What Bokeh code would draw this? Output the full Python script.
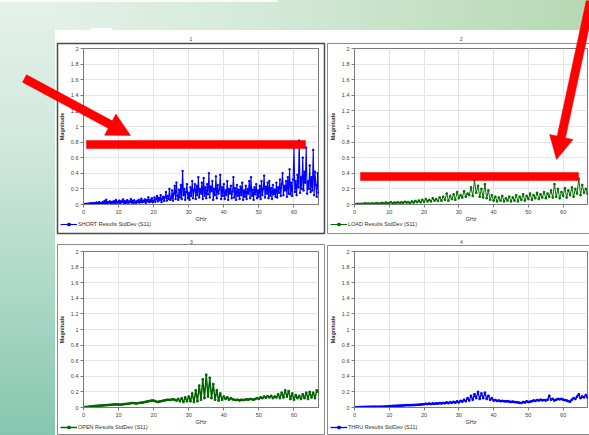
from bokeh.plotting import figure
from bokeh.layouts import row, column
from bokeh.models import Range1d, FixedTicker, Legend, LegendItem, ColumnDataSource
from bokeh.core.properties import value
from bokeh.embed import file_html
from bokeh.resources import INLINE

# ---------------- data ----------------
SHORT_STEP_GHZ = 0.25
OTHER_STEP_GHZ = 0.5

short_sd = [
    0.000, 0.004, 0.008, 0.003, 0.010, 0.006, 0.012, 0.004, 0.015, 0.008, 0.018, 0.006, 0.014, 0.020, 0.009, 0.025, 0.012, 0.018, 0.030, 0.010,
    0.020, 0.015, 0.032, 0.012, 0.045, 0.020, 0.060, 0.015, 0.030, 0.025, 0.040, 0.012, 0.028, 0.035, 0.018, 0.042, 0.022, 0.058, 0.020, 0.035,
    0.025, 0.050, 0.018, 0.040, 0.030, 0.065, 0.022, 0.045, 0.015, 0.035, 0.055, 0.020, 0.040, 0.028, 0.070, 0.025, 0.048, 0.018, 0.052, 0.030,
    0.020, 0.045, 0.030, 0.060, 0.025, 0.040, 0.075, 0.028, 0.050, 0.035, 0.065, 0.022, 0.055, 0.040, 0.092, 0.030, 0.060, 0.038, 0.080, 0.028,
    0.045, 0.090, 0.035, 0.070, 0.110, 0.040, 0.085, 0.055, 0.120, 0.030, 0.075, 0.100, 0.045, 0.090, 0.160, 0.050, 0.110, 0.070, 0.200, 0.060,
    0.080, 0.180, 0.050, 0.140, 0.240, 0.070, 0.280, 0.110, 0.060, 0.190, 0.090, 0.250, 0.070, 0.430, 0.120, 0.200, 0.060, 0.160, 0.260, 0.080,
    0.150, 0.060, 0.220, 0.110, 0.300, 0.080, 0.180, 0.260, 0.070, 0.240, 0.120, 0.350, 0.090, 0.200, 0.140, 0.280, 0.070, 0.340, 0.110, 0.220,
    0.080, 0.260, 0.130, 0.400, 0.090, 0.230, 0.170, 0.300, 0.060, 0.200, 0.120, 0.360, 0.080, 0.250, 0.140, 0.190, 0.380, 0.070, 0.220, 0.110,
    0.260, 0.070, 0.180, 0.120, 0.300, 0.060, 0.200, 0.140, 0.240, 0.080, 0.170, 0.350, 0.090, 0.210, 0.060, 0.250, 0.110, 0.190, 0.070, 0.230,
    0.120, 0.280, 0.060, 0.180, 0.100, 0.240, 0.070, 0.200, 0.140, 0.300, 0.080, 0.350, 0.110, 0.190, 0.060, 0.220, 0.130, 0.260, 0.080, 0.180,
    0.100, 0.240, 0.070, 0.300, 0.120, 0.200, 0.370, 0.090, 0.230, 0.140, 0.280, 0.080, 0.300, 0.110, 0.210, 0.070, 0.250, 0.130, 0.190, 0.100,
    0.280, 0.090, 0.220, 0.150, 0.320, 0.110, 0.260, 0.400, 0.120, 0.240, 0.180, 0.300, 0.100, 0.350, 0.140, 0.450, 0.130, 0.280, 0.110, 0.320,
    0.720, 0.160, 0.300, 0.120, 0.380, 0.220, 0.820, 0.150, 0.350, 0.200, 0.600, 0.180, 0.420, 0.280, 0.730, 0.140, 0.300, 0.200, 0.500, 0.160,
    0.350, 0.180, 0.700, 0.120, 0.420, 0.250, 0.100, 0.400, 0.150,
]

load_sd = [
    0.00, 0.005, 0.01, 0.005, 0.01, 0.008, 0.015, 0.01, 0.012, 0.008,
    0.015, 0.01, 0.012, 0.018, 0.01, 0.015, 0.02, 0.012, 0.025, 0.015,
    0.02, 0.03, 0.015, 0.025, 0.02, 0.03, 0.018, 0.028, 0.02, 0.035,
    0.025, 0.03, 0.02, 0.04, 0.025, 0.045, 0.03, 0.05, 0.03, 0.06,
    0.035, 0.07, 0.04, 0.06, 0.04, 0.08, 0.05, 0.07, 0.045, 0.09,
    0.05, 0.10, 0.06, 0.14, 0.05, 0.11, 0.07, 0.13, 0.06, 0.16,
    0.08, 0.12, 0.09, 0.17, 0.10, 0.14, 0.12, 0.22, 0.11, 0.31,
    0.15, 0.24, 0.10, 0.20, 0.09, 0.26, 0.08, 0.18, 0.06, 0.12,
    0.05, 0.10, 0.04, 0.09, 0.05, 0.11, 0.04, 0.08, 0.05, 0.10,
    0.04, 0.09, 0.05, 0.12, 0.04, 0.10, 0.06, 0.13, 0.05, 0.11,
    0.07, 0.14, 0.06, 0.12, 0.08, 0.15, 0.07, 0.13, 0.09, 0.16,
    0.08, 0.14, 0.10, 0.18, 0.09, 0.26, 0.10, 0.20, 0.08, 0.16,
    0.11, 0.21, 0.09, 0.18, 0.12, 0.22, 0.10, 0.20, 0.14, 0.33,
    0.12, 0.25, 0.15, 0.20, 0.14,
]

open_sd = [
    0.00, 0.005, 0.008, 0.01, 0.012, 0.015, 0.018, 0.02, 0.022, 0.024,
    0.025, 0.027, 0.028, 0.03, 0.032, 0.034, 0.036, 0.038, 0.04, 0.04,
    0.038, 0.036, 0.04, 0.042, 0.045, 0.048, 0.05, 0.055, 0.058, 0.055,
    0.052, 0.055, 0.06, 0.062, 0.065, 0.07, 0.075, 0.08, 0.085, 0.09,
    0.088, 0.08, 0.072, 0.075, 0.08, 0.085, 0.09, 0.095, 0.10, 0.098,
    0.10, 0.105, 0.10, 0.09, 0.11, 0.08, 0.12, 0.07, 0.13, 0.08,
    0.14, 0.08, 0.18, 0.07, 0.22, 0.08, 0.28, 0.10, 0.36, 0.12,
    0.42, 0.14, 0.38, 0.12, 0.30, 0.10, 0.22, 0.09, 0.18, 0.10,
    0.14, 0.11, 0.13, 0.10, 0.12, 0.105, 0.10, 0.095, 0.10, 0.09,
    0.10, 0.095, 0.10, 0.105, 0.10, 0.11, 0.105, 0.10, 0.11, 0.12,
    0.11, 0.13, 0.12, 0.14, 0.125, 0.145, 0.13, 0.15, 0.12, 0.14,
    0.13, 0.17, 0.12, 0.19, 0.13, 0.22, 0.14, 0.21, 0.11, 0.18,
    0.10, 0.16, 0.12, 0.15, 0.11, 0.17, 0.12, 0.19, 0.11, 0.20,
    0.13, 0.19, 0.12, 0.22, 0.20,
]

thru_sd = [
    0.00, 0.002, 0.004, 0.005, 0.006, 0.007, 0.008, 0.008, 0.009, 0.009,
    0.01, 0.01, 0.01, 0.01, 0.01, 0.01, 0.01, 0.011, 0.012, 0.013,
    0.016, 0.018, 0.02, 0.021, 0.022, 0.023, 0.024, 0.025, 0.026, 0.028,
    0.03, 0.029, 0.03, 0.031, 0.032, 0.033, 0.035, 0.036, 0.038, 0.04,
    0.042, 0.048, 0.044, 0.05, 0.045, 0.052, 0.047, 0.053, 0.05, 0.056,
    0.052, 0.058, 0.055, 0.065, 0.056, 0.068, 0.06, 0.072, 0.062, 0.078,
    0.066, 0.085, 0.075, 0.10, 0.08, 0.12, 0.09, 0.15, 0.10, 0.17,
    0.12, 0.20, 0.11, 0.18, 0.12, 0.19, 0.11, 0.15, 0.10, 0.12,
    0.09, 0.095, 0.085, 0.09, 0.08, 0.085, 0.08, 0.078, 0.08, 0.075,
    0.072, 0.075, 0.07, 0.068, 0.065, 0.06, 0.058, 0.07, 0.065, 0.08,
    0.07, 0.075, 0.08, 0.09, 0.085, 0.095, 0.09, 0.10, 0.092, 0.095,
    0.09, 0.10, 0.15, 0.10, 0.11, 0.09, 0.10, 0.11, 0.105, 0.11,
    0.10, 0.095, 0.09, 0.08, 0.075, 0.10, 0.12, 0.11, 0.14, 0.17,
    0.12, 0.14, 0.13, 0.16, 0.13,
]

short_freq = [SHORT_STEP_GHZ * i for i in range(len(short_sd))]
other_freq = [OTHER_STEP_GHZ * i for i in range(len(load_sd))]

x_ticks = [0, 10, 20, 30, 40, 50, 60]
x_tick_labels = ["0", "10", "20", "30", "40", "50", "60"]
y_ticks = [0, 0.2, 0.4, 0.6, 0.8, 1.0, 1.2, 1.4, 1.6, 1.8, 2.0]
y_tick_labels = ["0", "0.2", "0.4", "0.6", "0.8", "1", "1.2", "1.4", "1.6", "1.8", "2"]
panel_titles = ["1", "2", "3", "4"]
series_labels = ["SHORT Results StdDev (S11)", "LOAD Results StdDev (S11)",
                 "OPEN Results StdDev (S11)", "THRU Results StdDev (S11)"]
x_axis_title = "GHz"
y_axis_title = "Magnitude"

# ---------------- styling / layout ----------------
FONT = "Liberation Sans"
FS = "5.5px"
RED = "#ff0000"
X_MAX = 67
Y_MAX = 2

series_colors = ["#0000ff", "#007000", "#006400", "#0000ff"]
series_widths = [1.1, 1, 1.5, 1.3]
marker_sizes = [1.3, 1.5, 1.6, 1.6]


def make_panel(idx, freqs, values, W, H, bl, br, bt, bb):
    color = series_colors[idx]
    p = figure(width=W, height=H, x_range=Range1d(0, X_MAX), y_range=Range1d(0, Y_MAX),
               output_backend="svg", toolbar_location=None,
               min_border_left=bl, min_border_right=br, min_border_top=bt, min_border_bottom=bb)
    p.border_fill_color = None
    p.background_fill_color = "white"
    p.outline_line_color = "#7a7a7a"

    p.xaxis.ticker = FixedTicker(ticks=x_ticks)
    p.yaxis.ticker = FixedTicker(ticks=y_ticks)
    p.xaxis.major_label_overrides = {t: l for t, l in zip(x_ticks, x_tick_labels)}
    p.yaxis.major_label_overrides = {t: l for t, l in zip(y_ticks, y_tick_labels)}
    for ax in (p.xaxis[0], p.yaxis[0]):
        ax.major_label_text_font = FONT
        ax.major_label_text_font_size = FS
        ax.major_label_text_color = "#404040"
        ax.axis_label_text_font = FONT
        ax.axis_label_text_font_size = FS
        ax.axis_label_text_font_style = "normal"
        ax.axis_label_text_color = "#303030"
        ax.axis_line_color = "#7a7a7a"
        ax.major_tick_line_color = "#7a7a7a"
        ax.major_tick_out = 3
        ax.major_tick_in = 0
        ax.minor_tick_line_color = None
        ax.major_label_standoff = 2
    p.xaxis.axis_label = x_axis_title
    p.yaxis.axis_label = y_axis_title
    p.xaxis.axis_label_standoff = -1
    p.yaxis.axis_label_standoff = 3
    p.yaxis.axis_label_text_font_style = "bold"
    p.grid.grid_line_color = "#e4e4e4"

    p.line(freqs, values, line_color=color, line_width=series_widths[idx])
    p.scatter(freqs, values, marker="square", size=marker_sizes[idx],
              fill_color=color, line_color=color)
    return p


p1 = make_panel(0, short_freq, short_sd, 325, 235, 83, 7, 48, 31)
p2 = make_panel(1, other_freq, load_sd, 264, 235, 29, 2, 48, 31)
p3 = make_panel(2, other_freq, open_sd, 325, 200, 83, 7, 16, 28)
p4 = make_panel(3, other_freq, thru_sd, 264, 200, 29, 2, 16, 28)

bg = ", ".join([
    "linear-gradient(#ffffff, #ffffff) 55px 30px / 540px 410px no-repeat",
    "linear-gradient(#ffffff, #ffffff) 91px 28px / 21px 3px no-repeat",
    "linear-gradient(#fafafa, #fafafa) 0px 0px / 278px 2px no-repeat",
    "linear-gradient(to bottom, #e4f1e9 0%, #d3e9dd 30%, #a9d7c4 70%, #86c6b0 100%) 0px 0px / 55px 100% no-repeat",
    "linear-gradient(to right, #e6f2ea 0%, #d4e9d8 45%, #b5d9b2 100%)",
])

charts = column(row(p1, p2), row(p3, p4), styles={"background": bg})

# ---------------- overlay in page pixels: panel borders, titles, legends, red marks ----------------
PAGE_W, PAGE_H = 589, 435
ov = figure(width=PAGE_W, height=PAGE_H, x_range=Range1d(0, PAGE_W), y_range=Range1d(PAGE_H, 0),
            output_backend="svg", toolbar_location=None, min_border=0,
            x_axis_type=None, y_axis_type=None,
            styles={"position": "absolute", "left": "0px", "top": "0px"})
ov.grid.visible = False
ov.outline_line_color = None
ov.background_fill_color = None
ov.border_fill_color = None

border_left = [57, 327, 57, 327]
border_right = [324, 596, 324, 596]
border_top = [43, 43, 244, 245]
border_bottom = [233, 233, 434, 434]
border_colors = ["#4a4a4a", "#8a8a8a", "#8a8a8a", "#8a8a8a"]
border_widths = [1.5, 1, 1, 1]
ov.quad(left=border_left, right=border_right, top=border_top, bottom=border_bottom,
        fill_color=None, line_color=border_colors, line_width=border_widths)

title_x = [190.5, 460.7, 191, 461]
title_y = [38.5, 38.5, 241, 241]
ov.text(x=title_x, y=title_y, text=panel_titles, text_font=value(FONT), text_font_size="5px",
        text_align="center", text_baseline="middle", text_color="#404040")

# legends (one per chart, below its x-axis title); the key glyphs use a proxy
# renderer whose single point lies outside the visible page
legend_left = [60, 330, 60, 330]
legend_cy = [223, 223, 426, 426]
for i in range(4):
    src = ColumnDataSource(data=dict(x=[-50], y=[-50]))
    rl = ov.line("x", "y", source=src, line_color=series_colors[i], line_width=series_widths[i])
    rs = ov.scatter("x", "y", source=src, marker="square", size=2.5,
                    fill_color=series_colors[i], line_color=series_colors[i])
    lg = Legend(items=[LegendItem(label=series_labels[i], renderers=[rl, rs])],
                location=(legend_left[i], PAGE_H - legend_cy[i] - 3.5),
                glyph_width=17, glyph_height=6, label_height=6, label_standoff=1,
                label_text_font=FONT, label_text_font_size=FS, label_text_color="#303030",
                padding=0, margin=0, spacing=0, border_line_color=None,
                background_fill_alpha=0)
    ov.add_layout(lg)


def arrow_outline(x0, y0, x1, y1, shaft_w, head_len, head_w):
    dx, dy = x1 - x0, y1 - y0
    L = (dx * dx + dy * dy) ** 0.5
    ux, uy = dx / L, dy / L
    nx, ny = -uy, ux
    bx, by = x1 - ux * head_len, y1 - uy * head_len
    s, h = shaft_w / 2, head_w / 2
    pts = [(x0 + nx * s, y0 + ny * s), (bx + nx * s, by + ny * s), (bx + nx * h, by + ny * h),
           (x1, y1), (bx - nx * h, by - ny * h), (bx - nx * s, by - ny * s), (x0 - nx * s, y0 - ny * s)]
    return [q[0] for q in pts], [q[1] for q in pts]


def rect_outline(x0, y0, x1, y1):
    return [x0, x1, x1, x0], [y0, y0, y1, y1]


shapes = [arrow_outline(24, 78, 130, 135, 8.5, 23, 24),
          rect_outline(86, 140, 305, 148),
          rect_outline(360, 172, 578, 180),
          arrow_outline(591, -4, 556, 159, 8.5, 23, 24)]
ov.patches(xs=[s[0] for s in shapes], ys=[s[1] for s in shapes],
           fill_color=RED, line_color=RED, line_width=0.5)

open("out.html", "w").write(file_html([charts, ov], INLINE))
